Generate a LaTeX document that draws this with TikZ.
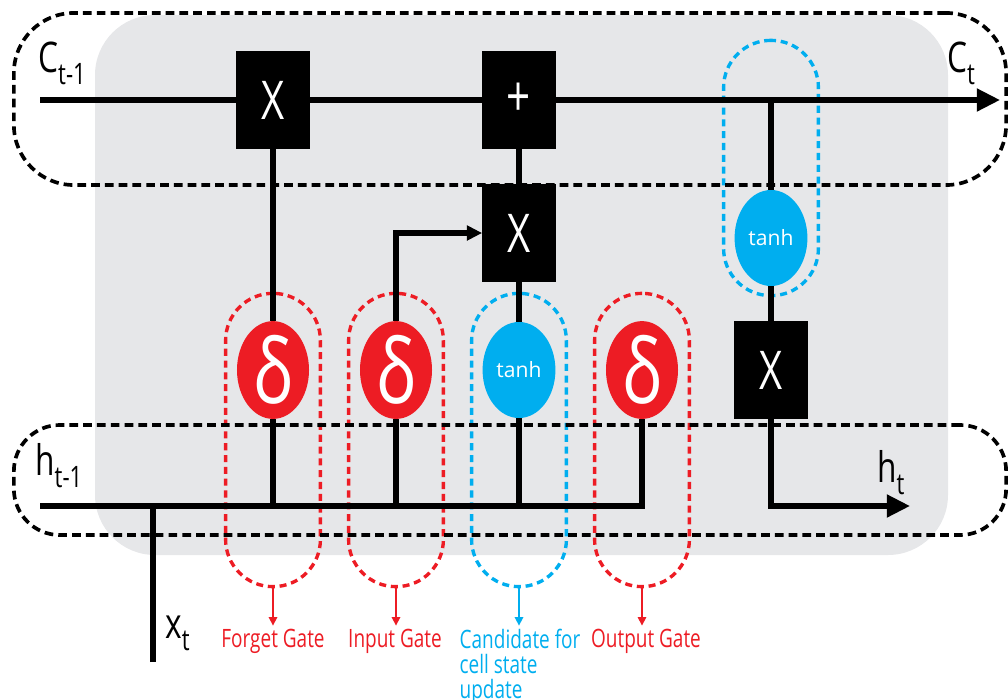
\documentclass[tikz,border=0pt]{standalone}
\usepackage{fontspec}
\setmainfont{Open Sans}[FakeStretch=0.75]
\newfontfamily\tanhfont{Open Sans}
\usetikzlibrary{shapes.geometric}
\usetikzlibrary{arrows.meta}
\usetikzlibrary{positioning}
\definecolor{gateRed}{HTML}{ED1C24}
\definecolor{candBlue}{HTML}{00AEEF}
\definecolor{cellGrey}{HTML}{E6E7E9}
\newcommand{\statelabel}[2]{#1\raisebox{-9pt}{\fontsize{21}{21}\selectfont #2}}

\begin{document}
\begin{tikzpicture}[x=0.025cm, y=-0.025cm, >=Stealth]
  \tikzset{
    opbox/.style={fill=black, minimum width=1.83cm, minimum height=2.43cm, inner sep=0pt,
      text=white, font=\fontsize{38}{38}\selectfont},
    sigmoid/.style={ellipse, fill=gateRed, minimum width=1.8cm, minimum height=2.4cm,
      inner sep=0pt, text=white, font=\fontsize{64}{64}\selectfont},
    tanhnode/.style={ellipse, fill=candBlue, minimum width=1.82cm, minimum height=2.4cm,
      inner sep=0pt, text=white, font=\tanhfont\fontsize{15}{15}\selectfont},
    flow/.style={line width=3.6pt},
    bigtip/.style={-{Triangle[length=0.58cm, width=0.55cm]}},
    statebox/.style={draw, dash pattern=on 6.2pt off 3.6pt, line width=2.6pt, inner sep=0pt},
    gatecap/.style={draw, dash pattern=on 5pt off 3.4pt, line width=2.4pt, minimum width=2.37cm,
      rounded corners=1.18cm, inner sep=0pt},
    gatelbl/.style={font=\fontsize{18}{18}\selectfont, inner sep=1pt},
    pointer/.style={line width=1.1pt, -{Triangle[length=6pt, width=6pt]}, shorten >=1pt},
    statelbl/.style={font=\fontsize{30}{30}\selectfont, anchor=base west, inner sep=0pt}
  }
  \useasboundingbox (0,0) rectangle (1008,699);
  % cell body
  \fill[cellGrey, rounded corners=1.5cm] (95,15) rectangle (948,555);

  % gate groups
  \node[gatecap, draw=gateRed, minimum height=7.33cm] (fgcap) at (273,440) {};
  \node[gatecap, draw=gateRed, minimum height=7.33cm] (igcap) at (396,440) {};
  \node[gatecap, draw=candBlue, minimum height=7.33cm] (cdcap) at (519,440) {};
  \node[gatecap, draw=gateRed, minimum height=7.33cm] (ogcap) at (642,440) {};
  \node[gatecap, draw=candBlue, minimum height=6.38cm] (ctcap) at (771,168) {};

  % state lanes
  \node[statebox, minimum width=24.8cm, minimum height=4.3cm, rounded corners=1.5cm] (cellbox) at (510,99) {};
  \node[statebox, minimum width=24.8cm, minimum height=2.75cm, rounded corners=1.15cm] (hidbox) at (510,480) {};

  % operations
  \node[opbox] (fx) at (273,100) {X};
  \node[opbox, font=\fontsize{40}{40}\selectfont] (add) at (519,100) {+};
  \node[opbox] (ix) at (519,233) {X};
  \node[opbox] (ox) at (771,370) {X};
  \node[sigmoid] (fg) at (273,370) {δ};
  \node[sigmoid] (ig) at (396,370) {δ};
  \node[tanhnode] (cand) at (519,370) {tanh};
  \node[sigmoid] (og) at (642,370) {δ};
  \node[tanhnode] (ctanh) at (771,238) {tanh};

  \coordinate (cin) at (40,100);
  \coordinate (cout) at (1000,100);
  \coordinate (ctap) at (771,100);
  \coordinate (hin) at (40,506);
  \coordinate (hjoin) at (642,506);
  \coordinate (hout) at (910,506);
  \coordinate (xin) at (153,662);

  % cell state
  \draw[flow] (cin) -- (fx);
  \draw[flow] (fx) -- (add);
  \draw[flow, bigtip] (add) -- (cout);
  \draw[flow] (ctap) -- (ctanh);
  \draw[flow] (ctanh) -- (ox);
  \draw[flow, bigtip] (ox) |- (hout);
  % hidden state and input
  \draw[flow] (hin) -- (hjoin) -- (og);
  \draw[flow] (xin) -- (xin |- hin);
  \draw[flow] (fg) -- (fx);
  \draw[flow] (fg) -- (fg |- hin);
  \draw[flow] (ig) -- (ig |- hin);
  \draw[flow] (cand) -- (cand |- hin);
  \draw[flow, -{Triangle[length=0.38cm, width=0.36cm]}] (ig) |- (ix);
  \draw[flow] (cand) -- (ix);
  \draw[flow] (ix) -- (add);

  % labels
  \node[statelbl] (cprev) at (38,72) {\statelabel{C}{t-1}};
  \node[statelbl] (cnext) at (947,72) {\statelabel{C}{t}};
  \node[statelbl] (hprev) at (35,475) {\statelabel{h}{t-1}};
  \node[statelbl] (hnext) at (877,482) {\statelabel{h}{t}};
  \node[statelbl] (xcur) at (165,638) {\statelabel{x}{t}};

  \node[gatelbl, text=gateRed, anchor=base] (fglbl) at (273,647) {Forget Gate};
  \node[gatelbl, text=gateRed, anchor=base] (iglbl) at (395,647) {Input Gate};
  \node[gatelbl, text=candBlue, anchor=north west, align=left] (cdlbl) at (458,627) {Candidate for\\cell state\\update};
  \node[gatelbl, text=gateRed, anchor=base] (oglbl) at (646,647) {Output Gate};
  \draw[pointer, gateRed] (fgcap.south) -- (fgcap.south |- fglbl.north);
  \draw[pointer, gateRed] (igcap.south) -- (igcap.south |- iglbl.north);
  \draw[pointer, candBlue] (cdcap.south) -- (cdcap.south |- cdlbl.north);
  \draw[pointer, gateRed] (ogcap.south) -- (ogcap.south |- oglbl.north);
\end{tikzpicture}
\end{document}
